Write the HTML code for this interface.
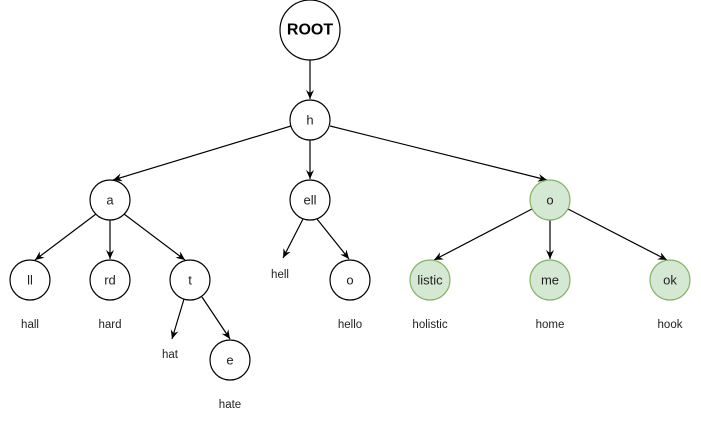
<!DOCTYPE html>
<html><head><style>
html,body{margin:0;padding:0;background:#fff;}
svg text{font-family:"Liberation Sans",sans-serif;font-size:13px;fill:#222;text-anchor:middle;dominant-baseline:central;}
</style></head><body>
<svg width="701" height="421" viewBox="0 0 701 421" xmlns="http://www.w3.org/2000/svg">
<defs><marker id="ar" markerWidth="10" markerHeight="10" refX="9" refY="5" orient="auto" markerUnits="userSpaceOnUse"><path d="M0,1 L9,5 L0,9 L3,5 z" fill="#000"/></marker></defs>
<g stroke="#000" stroke-width="1.2" fill="none" marker-end="url(#ar)">
<line x1="310" y1="60" x2="310" y2="99"/>
<line x1="291" y1="126" x2="113" y2="180"/>
<line x1="310" y1="140" x2="310" y2="179"/>
<line x1="330" y1="126" x2="547" y2="180"/>
<line x1="96" y1="214" x2="35" y2="260"/>
<line x1="110" y1="220" x2="110" y2="259"/>
<line x1="124" y1="214" x2="185" y2="260"/>
<line x1="303" y1="219" x2="283" y2="258"/>
<line x1="317" y1="219" x2="349" y2="259"/>
<line x1="532" y1="209" x2="434" y2="260"/>
<line x1="550" y1="220" x2="550" y2="259"/>
<line x1="568" y1="209" x2="667" y2="260"/>
<line x1="184" y1="299" x2="172" y2="339"/>
<line x1="202" y1="297" x2="230" y2="339"/>
</g>
<g stroke="#000" stroke-width="1.2" fill="#fff">
<circle cx="310" cy="30" r="30"/>
<circle cx="310" cy="120" r="20"/>
<circle cx="110" cy="200" r="20"/>
<circle cx="310" cy="200" r="20"/>
<circle cx="30" cy="280" r="20"/>
<circle cx="110" cy="280" r="20"/>
<circle cx="190" cy="280" r="20"/>
<circle cx="350" cy="280" r="20"/>
<circle cx="230" cy="360" r="20"/>
</g>
<g stroke="#82b366" stroke-width="1.2" fill="#d5e8d4">
<circle cx="550" cy="200" r="20"/>
<circle cx="430" cy="280" r="20"/>
<circle cx="550" cy="280" r="20"/>
<circle cx="670" cy="280" r="20"/>
</g>
<text x="310" y="30" style="font-weight:bold;font-size:16px;fill:#000">ROOT</text>
<text x="310" y="120">h</text>
<text x="110" y="200">a</text>
<text x="310" y="200">ell</text>
<text x="550" y="200">o</text>
<text x="30" y="280">ll</text>
<text x="110" y="280">rd</text>
<text x="190" y="280">t</text>
<text x="350" y="280">o</text>
<text x="430" y="280">listic</text>
<text x="550" y="280">me</text>
<text x="670" y="280">ok</text>
<text x="230" y="360">e</text>
<text x="30" y="325" style="font-size:11.5px">hall</text>
<text x="110" y="325" style="font-size:11.5px">hard</text>
<text x="170" y="355" style="font-size:11.5px">hat</text>
<text x="280" y="275" style="font-size:11.5px">hell</text>
<text x="350" y="325" style="font-size:11.5px">hello</text>
<text x="430" y="325" style="font-size:11.5px">holistic</text>
<text x="550" y="325" style="font-size:11.5px">home</text>
<text x="670" y="325" style="font-size:11.5px">hook</text>
<text x="230" y="405" style="font-size:11.5px">hate</text>
</svg>
</body></html>
